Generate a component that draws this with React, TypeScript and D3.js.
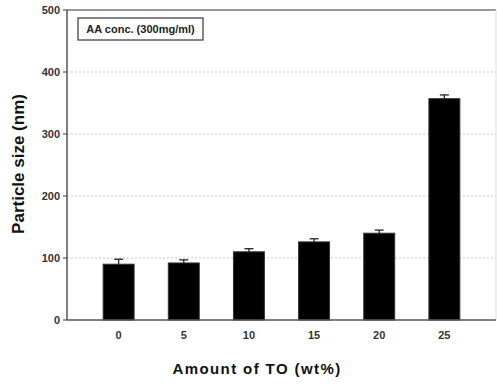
import React from 'react';
import { scaleBand, scaleLinear } from 'd3';

const categories = ['0', '5', '10', '15', '20', '25'];
const sizes = [90, 92, 110, 126, 140, 357];
const errors = [8, 5, 5, 5, 5, 6];
const yTicks = [0, 100, 200, 300, 400, 500];
const legendText = 'AA conc. (300mg/ml)';

const W = 497;
const H = 384;
const left = 67;
const right = 496;
const top = 10;
const bottom = 320;

export default function App() {
  const x = scaleBand<string>()
    .domain(categories)
    .range([left, right])
    .paddingInner(0.525)
    .paddingOuter(0.555);
  const y = scaleLinear().domain([0, 500]).range([bottom, top]);
  const font = 'Arial, "Liberation Sans", sans-serif';

  return (
    <svg
      width={W}
      height={H}
      style={{ position: 'absolute', left: 0, top: 0, background: '#fff' }}
      fontFamily={font}
    >
      {/* grid */}
      {yTicks
        .filter((t) => t > 0 && t < 500)
        .map((t) => (
          <line
            key={'g' + t}
            x1={left}
            x2={right}
            y1={y(t)}
            y2={y(t)}
            stroke="#c4c4c4"
            strokeWidth={1}
            strokeDasharray="2,2"
          />
        ))}
      {/* bars */}
      {categories.map((c, i) => {
        const cx = x(c)! + x.bandwidth() / 2;
        const eTop = y(sizes[i] + errors[i]);
        return (
          <g key={c}>
            <line x1={cx} x2={cx} y1={y(sizes[i])} y2={eTop} stroke="#222" strokeWidth={1.3} />
            <line x1={cx - 4.5} x2={cx + 4.5} y1={eTop} y2={eTop} stroke="#222" strokeWidth={1.3} />
            <rect
              x={x(c)}
              y={y(sizes[i])}
              width={x.bandwidth()}
              height={bottom - y(sizes[i])}
              fill="#000"
              stroke="#333"
              strokeWidth={1}
            />
          </g>
        );
      })}
      {/* frame */}
      <line x1={left} x2={right} y1={top} y2={top} stroke="#777" strokeWidth={1.5} />
      <line x1={right} x2={right} y1={top} y2={bottom} stroke="#ddd" strokeWidth={1} />
      <line x1={left} x2={right} y1={bottom} y2={bottom} stroke="#555" strokeWidth={1.5} />
      <line x1={left} x2={left} y1={top} y2={bottom} stroke="#555" strokeWidth={1.5} />
      {/* y ticks */}
      {yTicks.map((t) => (
        <g key={'t' + t}>
          <line x1={left - 4} x2={left} y1={y(t)} y2={y(t)} stroke="#555" strokeWidth={1.2} />
          <text
            x={left - 7}
            y={y(t)}
            dy="0.35em"
            textAnchor="end"
            fontSize={11}
            fontWeight="bold"
            fill="#333"
          >
            {t}
          </text>
        </g>
      ))}
      {/* x ticks */}
      {categories.map((c) => (
        <text
          key={'x' + c}
          x={x(c)! + x.bandwidth() / 2}
          y={339}
          textAnchor="middle"
          fontSize={11}
          fontWeight="bold"
          fill="#333"
        >
          {c}
        </text>
      ))}
      {/* legend */}
      <rect x={78} y={18} width={125} height={22} fill="#fff" stroke="#444" strokeWidth={1.3} />
      <text x={140.5} y={33} textAnchor="middle" fontSize={11} fontWeight="bold" fill="#222">
        {legendText}
      </text>
      {/* axis titles */}
      <text
        transform="translate(24,164) rotate(-90)"
        textAnchor="middle"
        fontSize={17}
        fontWeight="bold"
        fill="#111"
      >
        Particle size (nm)
      </text>
      <text
        x={257}
        y={374}
        textAnchor="middle"
        fontSize={15}
        fontWeight="bold"
        letterSpacing={1.4}
        fill="#111"
      >
        Amount of TO (wt%)
      </text>
    </svg>
  );
}
